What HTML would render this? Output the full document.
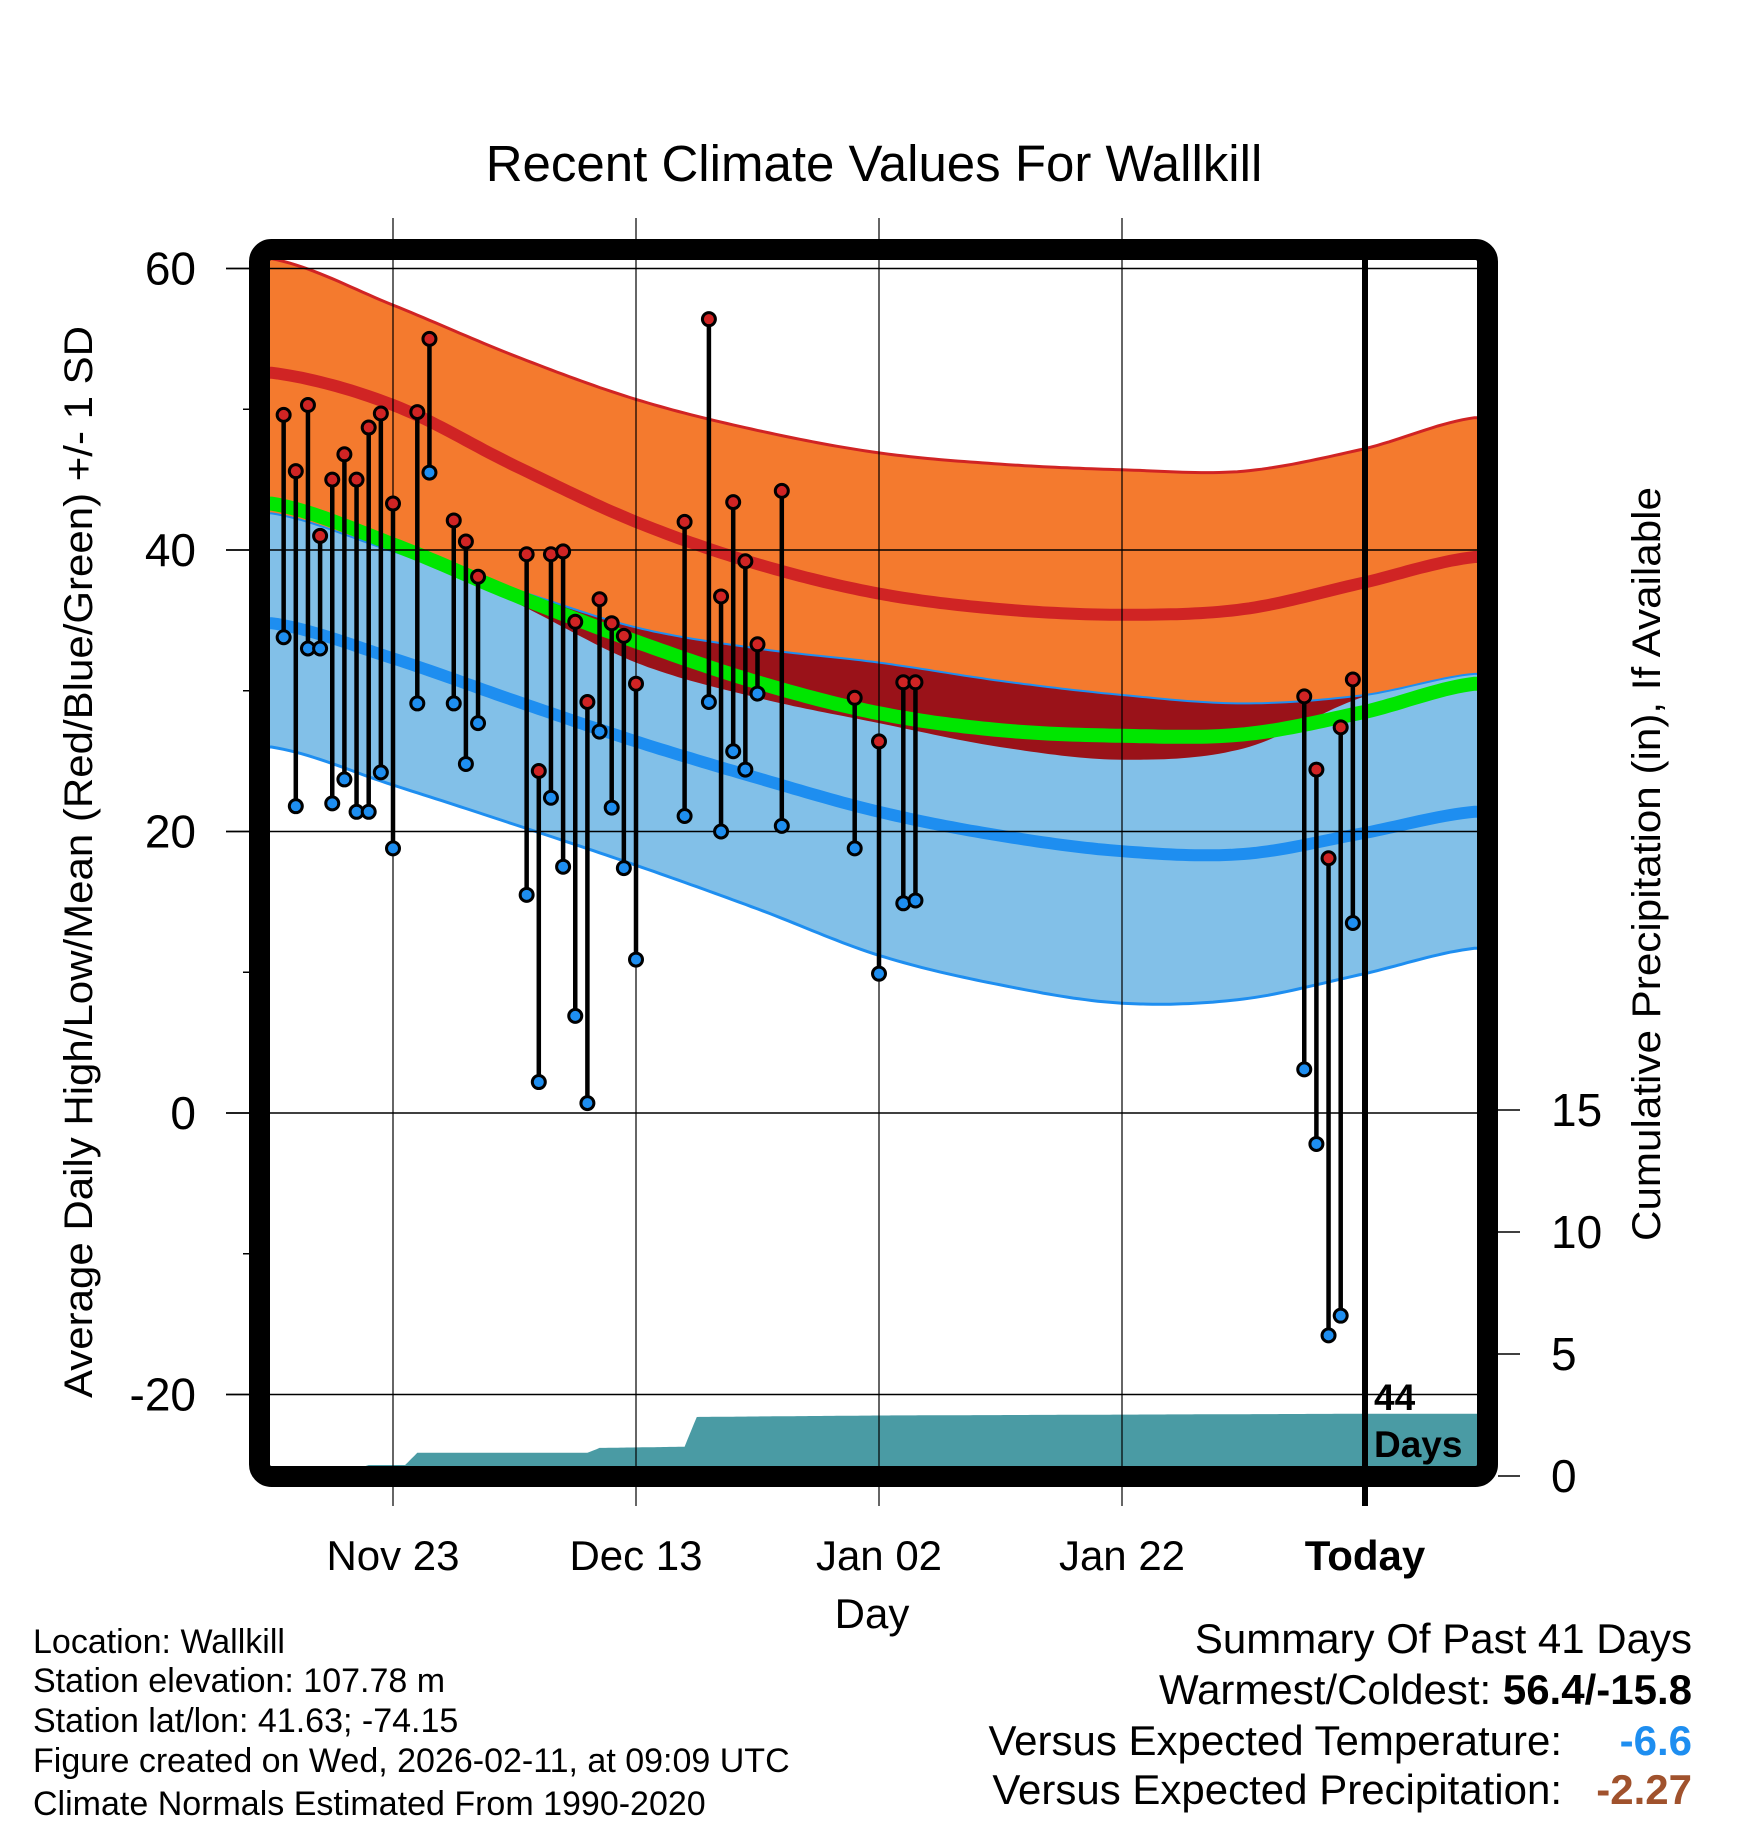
<!DOCTYPE html>
<html><head><meta charset="utf-8"><style>
html,body{margin:0;padding:0;background:#fff;}
svg{display:block;font-family:"Liberation Sans",sans-serif;}
</style></head><body>
<svg id="chart" width="1748" height="1828" viewBox="0 0 1748 1828" xmlns="http://www.w3.org/2000/svg">
<defs><clipPath id="plotclip"><rect x="270" y="260" width="1208" height="1206"/></clipPath></defs>
<rect x="0" y="0" width="1748" height="1828" fill="#fff"/>
<text x="874" y="181" font-size="51" text-anchor="middle">Recent Climate Values For Wallkill</text>
<g id="bands" clip-path="url(#plotclip)"></g>
<g id="grid"></g>
<g id="marks" clip-path="url(#plotclip)"></g>
<rect x="259.5" y="249.5" width="1228" height="1227" rx="12" fill="none" stroke="#000" stroke-width="21"/>
<g id="axes"></g>
<text x="1374" y="1410" font-size="37" font-weight="bold">44</text>
<text x="1374" y="1457" font-size="37" font-weight="bold">Days</text>
<text transform="translate(92,862) rotate(-90)" font-size="40" text-anchor="middle" textLength="1072" lengthAdjust="spacingAndGlyphs">Average Daily High/Low/Mean (Red/Blue/Green) +/- 1 SD</text>
<text transform="translate(1660,864) rotate(-90)" font-size="40" text-anchor="middle" textLength="754" lengthAdjust="spacingAndGlyphs">Cumulative Precipitation (in), If Available</text>
<text x="872" y="1628" font-size="42" text-anchor="middle">Day</text>
<g font-size="34">
<text x="33" y="1653">Location: Wallkill</text>
<text x="33" y="1692">Station elevation: 107.78 m</text>
<text x="33" y="1732">Station lat/lon: 41.63; -74.15</text>
<text x="33" y="1772">Figure created on Wed, 2026-02-11, at 09:09 UTC</text>
<text x="33" y="1815">Climate Normals Estimated From 1990-2020</text>
</g>
<g font-size="42" text-anchor="end">
<text x="1692" y="1653">Summary Of Past 41 Days</text>
<text x="1692" y="1704">Warmest/Coldest: <tspan font-weight="bold">56.4/-15.8</tspan></text>
<text x="1562" y="1755">Versus Expected Temperature:</text>
<text x="1692" y="1755" font-weight="bold" fill="#1e8ef0">-6.6</text>
<text x="1562" y="1804">Versus Expected Precipitation:</text>
<text x="1692" y="1804" font-weight="bold" fill="#a0522d">-2.27</text>
</g>
</svg>
<script>
// day offsets relative to Nov 23
const normDays = [-10,0,10,20,30,40,50,60,70,80,89];
const highPlus = [60.7,57.4,53.8,50.7,48.5,46.9,46.1,45.7,45.6,47.2,49.4];
const highMean = [52.6,50.3,46.0,42.0,39.0,36.9,35.8,35.4,35.8,37.7,39.5];
const highMinus = [43.2,40.2,36.3,32.0,29.5,27.7,26.0,25.1,25.9,29.6,31.2];
const avgMean = [43.3,40.4,36.8,33.5,30.6,28.4,27.2,26.8,26.9,28.5,30.5];
const lowPlus = [42.6,39.9,37.2,34.5,33.0,32.0,30.7,29.7,29.1,29.7,31.2];
const lowMean = [34.8,32.3,29.3,26.4,23.8,21.4,19.7,18.6,18.4,19.9,21.4];
const lowMinus = [26.0,23.3,20.5,17.6,14.5,11.2,9.1,7.8,8.1,9.9,11.7];
const obsDays = [-9,-8,-7,-6,-5,-4,-3,-2,-1,0,2,3,5,6,7,11,12,13,14,15,16,17,18,19,20,24,26,27,28,29,30,32,38,40,42,43,75,76,77,78,79];
const obsHigh = [49.6,45.6,50.3,41.0,45.0,46.8,45.0,48.7,49.7,43.3,49.8,55.0,42.1,40.6,38.1,39.7,24.3,39.7,39.9,34.9,29.2,36.5,34.8,33.9,30.5,42.0,56.4,36.7,43.4,39.2,33.3,44.2,29.5,26.4,30.6,30.6,29.6,24.4,18.1,27.4,30.8];
const obsLow = [33.8,21.8,33.0,33.0,22.0,23.7,21.4,21.4,24.2,18.8,29.1,45.5,29.1,24.8,27.7,15.5,2.2,22.4,17.5,6.9,0.7,27.1,21.7,17.4,10.9,21.1,29.2,20.0,25.7,24.4,29.8,20.4,18.8,9.9,14.9,15.1,3.1,-2.2,-15.8,-14.4,13.5];
const precipDays = [-10,-3,-2,1,2,16,17,24,25,40,79,89];
const precipVals = [0,0,0.45,0.45,0.95,0.95,1.15,1.2,2.42,2.48,2.55,2.55];
const tempTicks = [60,40,20,0,-20];
const tempMinor = [50,30,10,-10];
const precipTicks = [0,5,10,15];
const dateTickDays = [0,20,40,60,80];
const dateTickLabels = ["Nov 23","Dec 13","Jan 02","Jan 22","Today"];

const NS="http://www.w3.org/2000/svg";
const xs=d=>393+12.15*d;
const ys=t=>1113-14.075*t;
const yp=p=>1476-24.4*p;
function el(tag,attrs,parent){const e=document.createElementNS(NS,tag);for(const k in attrs)e.setAttribute(k,attrs[k]);parent.appendChild(e);return e;}
function cr(vals,d){
  let i=0;while(i<normDays.length-2&&d>normDays[i+1])i++;
  const x0=normDays[i],x1=normDays[i+1];const t=Math.max(0,Math.min(1,(d-x0)/(x1-x0)));
  const p0=vals[Math.max(0,i-1)],p1=vals[i],p2=vals[i+1],p3=vals[Math.min(vals.length-1,i+2)];
  return 0.5*((2*p1)+(-p0+p2)*t+(2*p0-5*p1+4*p2-p3)*t*t+(-p0+3*p1-3*p2+p3)*t*t*t);
}
const samp=[];for(let d=-11;d<=90;d+=0.5)samp.push(d);
function linePts(vals){return samp.map(d=>xs(d).toFixed(1)+","+ys(cr(vals,d)).toFixed(1));}
function bandPts(top,bot){const a=samp.map(d=>xs(d).toFixed(1)+","+ys(top(d)).toFixed(1));const b=samp.slice().reverse().map(d=>xs(d).toFixed(1)+","+ys(bot(d)).toFixed(1));return a.concat(b).join(" ");}

const bands=document.getElementById('bands');
let e;
e=el('polygon',{points:bandPts(d=>cr(highPlus,d),d=>Math.min(cr(highMinus,d),cr(lowPlus,d))),fill:'#f47a2e'},bands);


e=el('polygon',{points:bandPts(d=>cr(lowPlus,d),d=>cr(lowMinus,d)),fill:'#82c0e8'},bands);


e=el('polygon',{points:bandPts(d=>cr(lowPlus,d),d=>Math.min(cr(lowPlus,d),cr(highMinus,d))),fill:'#9a1219'},bands);


const lines=[[highPlus,'#d02424',3,'high-plus-sd-line'],[lowPlus,'#1e8ef0',2,'low-plus-sd-line'],[lowMinus,'#1e8ef0',3,'low-minus-sd-line'],[highMean,'#d02424',12,'mean-high-line'],[lowMean,'#1e8ef0',12,'mean-low-line'],[avgMean,'#00e600',14,'mean-temp-line']];
lines.forEach(l=>{
  const p=el('polyline',{points:linePts(l[0]).join(" "),fill:'none',stroke:l[1],'stroke-width':l[2]},bands);
  
  
});
function pInterp(d){let i=0;while(i<precipDays.length-2&&d>precipDays[i+1])i++;const t=Math.max(0,Math.min(1,(d-precipDays[i])/(precipDays[i+1]-precipDays[i])));return precipVals[i]+(precipVals[i+1]-precipVals[i])*t;}
const pp=[];for(let d=-11;d<=90;d+=0.25)pp.push(xs(d).toFixed(1)+","+Math.min(1466,yp(pInterp(d))).toFixed(1));
pp.push(xs(90)+",1470");pp.push(xs(-11)+",1470");
e=el('polygon',{points:pp.join(" "),fill:'#4a9ba4'},bands);



const grid=document.getElementById('grid');
tempTicks.forEach(t=>{
  const g=el('line',{x1:226,x2:1478,y1:ys(t),y2:ys(t),stroke:'#000','stroke-width':1.5},grid);
  
  
});
dateTickDays.forEach((d,i)=>{
  const g=el('line',{x1:xs(d),x2:xs(d),y1:i===4?250:218,y2:1506,stroke:'#000','stroke-width':i===4?6:1.2},grid);
  
  
});

const marks=document.getElementById('marks');
obsDays.forEach((d,i)=>{
  const x=xs(d);
  const s=el('line',{x1:x,x2:x,y1:ys(obsHigh[i]),y2:ys(obsLow[i]),stroke:'#000','stroke-width':4.5},marks);
  
  
});
obsDays.forEach((d,i)=>{
  const x=xs(d);
  const h=el('circle',{cx:x,cy:ys(obsHigh[i]),r:6.5,fill:'#d02424',stroke:'#000','stroke-width':3},marks);
  
  
  const l=el('circle',{cx:x,cy:ys(obsLow[i]),r:6.5,fill:'#1e8ef0',stroke:'#000','stroke-width':3},marks);
  
  
});

const axes=document.getElementById('axes');
tempTicks.forEach(t=>{
  const k=el('line',{x1:226,x2:250,y1:ys(t),y2:ys(t),stroke:'#000','stroke-width':1.5},axes);
  
  
  const tx=el('text',{x:196,y:ys(t)+16,'font-size':46,'text-anchor':'end'},axes);
  tx.textContent=String(t);
  
  
});
tempMinor.forEach(t=>{
  const k=el('line',{x1:243,x2:250,y1:ys(t),y2:ys(t),stroke:'#000','stroke-width':1.5},axes);
  
  
});
precipTicks.forEach(p=>{
  const k=el('line',{x1:1498,x2:1520,y1:yp(p),y2:yp(p),stroke:'#000','stroke-width':1.5},axes);
  
  
  const tx=el('text',{x:1551,y:yp(p)+16,'font-size':46},axes);
  tx.textContent=String(p);
  
  
});
dateTickDays.forEach((d,i)=>{
  const tx=el('text',{x:xs(d),y:1570,'font-size':42,'text-anchor':'middle','font-weight':i===4?'bold':'normal'},axes);
  tx.textContent=dateTickLabels[i];
  
  
});
</script>
</body></html>
